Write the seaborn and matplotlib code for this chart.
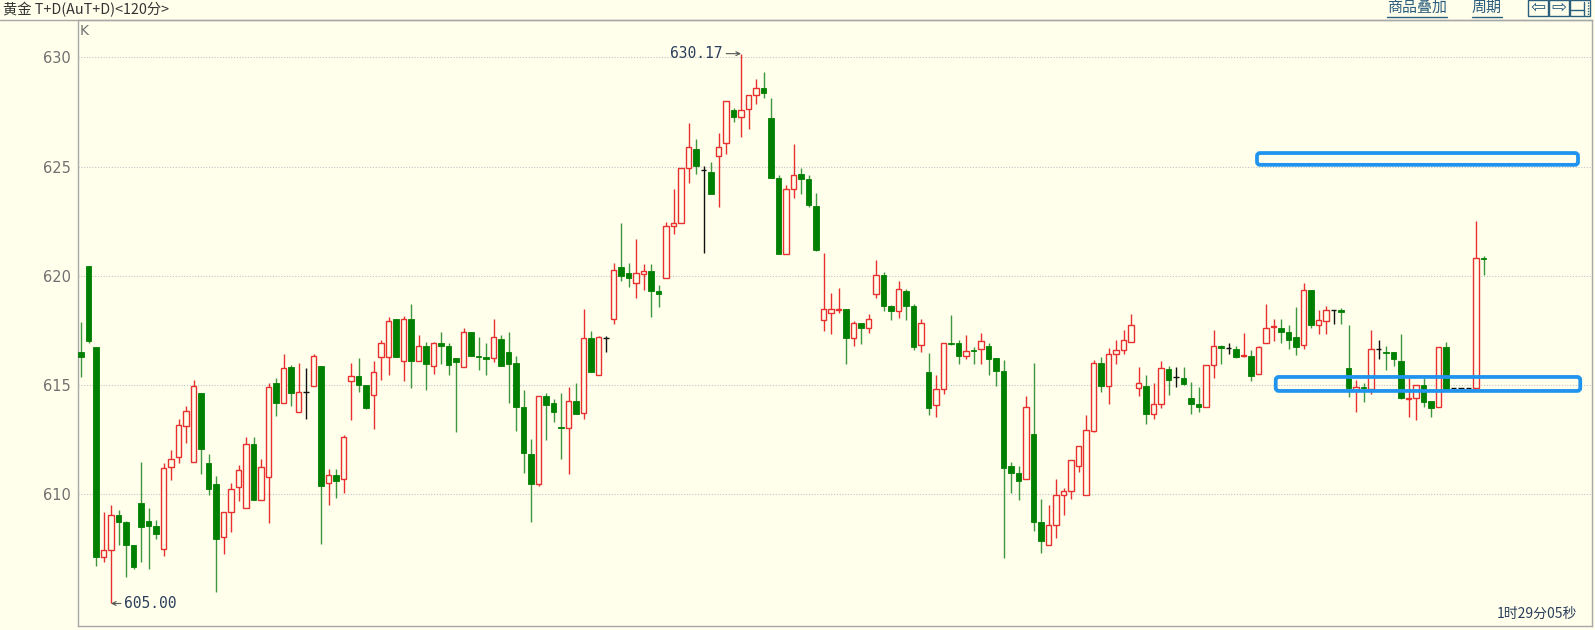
import matplotlib
matplotlib.use("Agg")
import matplotlib.pyplot as plt
import seaborn as sns
from matplotlib.patches import FancyBboxPatch, Rectangle
from matplotlib.lines import Line2D
from matplotlib.transforms import IdentityTransform

# ---------------- data ----------------
opens = [
    616.52, 620.47, 616.74, 607.12, 607.45, 609.07, 608.73, 607.68, 609.60, 608.78,
    608.53, 607.51, 611.24, 611.71, 613.13, 611.46, 614.62, 611.41, 610.47, 608.05,
    609.20, 610.34, 609.36, 612.29, 609.76, 610.78, 615.08, 614.20, 615.84, 613.78,
    614.67, 614.96, 615.89, 610.51, 610.90, 610.69, 615.18, 615.42, 615.01, 614.54,
    616.29, 616.27, 618.01, 616.10, 618.01, 616.10, 616.77, 615.89, 616.91, 616.77,
    616.23, 615.81, 617.45, 616.32, 616.27, 616.23, 617.13, 616.52, 616.03, 613.98,
    611.86, 610.47, 614.50, 614.17, 613.07, 613.02, 614.28, 613.71, 617.17, 615.48,
    617.17, 618.02, 620.39, 620.13, 619.68, 620.10, 620.22, 619.29, 619.88, 622.30,
    622.42, 624.92, 625.82, 624.84, 624.75, 625.48, 626.07, 627.60, 627.26, 627.63,
    628.27, 628.61, 627.21, 624.50, 621.00, 623.99, 624.67, 624.45, 623.20, 617.99,
    618.32, 618.45, 618.49, 617.17, 617.82, 617.61, 619.17, 620.02, 618.63, 618.38,
    619.31, 618.63, 616.84, 615.58, 614.09, 614.82, 616.94, 616.94, 616.33, 616.60,
    616.63, 616.80, 616.26, 615.65, 611.30, 610.96, 610.71, 612.78, 608.71, 607.70,
    608.60, 609.95, 610.17, 611.29, 609.97, 612.90, 616.00, 614.96, 616.40, 616.60,
    616.99, 614.88, 614.96, 613.69, 614.11, 615.72, 615.35, 615.30, 614.40, 614.11,
    613.98, 615.93, 616.79, 616.71, 616.66, 616.32, 616.32, 615.52, 616.94, 617.67,
    617.59, 617.42, 617.21, 616.82, 619.37, 617.76, 617.93, 618.43, 618.43, 615.78,
    614.78, 614.92, 614.82, 616.67, 616.53, 616.53, 616.12, 614.35, 614.40, 614.99,
    614.26, 614.01, 616.76, 614.87, 614.87, 614.87, 614.87, 620.80,
]
highs = [
    617.89, 620.47, 616.74, 609.20, 609.49, 609.26, 608.78, 607.70, 611.49, 609.37,
    608.83, 611.41, 612.03, 613.44, 614.06, 615.22, 614.62, 611.83, 610.85, 609.20,
    610.51, 611.36, 612.62, 612.62, 611.60, 615.08, 615.30, 616.40, 615.93, 616.00,
    615.78, 616.40, 615.89, 611.15, 611.15, 612.71, 616.00, 616.23, 615.01, 616.10,
    617.05, 618.13, 618.01, 618.18, 618.69, 617.30, 616.99, 616.99, 617.42, 616.91,
    616.23, 617.59, 617.45, 617.20, 616.91, 618.01, 617.30, 617.42, 616.32, 614.79,
    612.51, 614.50, 614.62, 614.37, 614.62, 614.91, 615.08, 618.49, 617.48, 617.23,
    617.26, 620.60, 622.42, 620.60, 621.68, 620.52, 620.52, 619.59, 622.47, 623.99,
    624.92, 626.99, 626.24, 625.01, 625.21, 626.53, 628.02, 627.67, 630.17, 628.27,
    629.02, 629.32, 628.14, 624.62, 624.16, 626.02, 624.92, 624.62, 623.77, 621.03,
    619.20, 619.42, 618.49, 617.95, 617.82, 618.27, 620.73, 620.19, 618.66, 619.76,
    619.38, 618.70, 618.02, 616.46, 615.48, 616.94, 618.21, 617.06, 617.31, 616.72,
    617.39, 616.94, 616.26, 616.16, 611.47, 611.30, 614.52, 615.99, 609.78, 609.49,
    610.71, 610.29, 611.56, 612.20, 613.61, 616.15, 616.28, 616.69, 617.08, 617.50,
    618.23, 615.81, 615.47, 615.08, 616.11, 615.89, 615.84, 615.84, 615.13, 614.93,
    615.93, 617.50, 616.82, 616.94, 616.77, 617.38, 616.60, 616.77, 618.69, 618.01,
    618.01, 617.76, 618.57, 619.65, 619.37, 618.43, 618.64, 618.43, 618.53, 617.74,
    615.21, 615.09, 617.50, 617.05, 616.81, 616.53, 617.33, 615.30, 614.99, 615.33,
    614.26, 616.76, 616.98, 614.87, 614.87, 614.87, 622.52, 620.89,
]
lows = [
    615.39, 616.94, 606.71, 606.92, 605.00, 607.68, 606.21, 606.60, 606.92, 606.58,
    607.97, 607.17, 610.64, 611.44, 612.34, 611.46, 610.95, 609.97, 605.53, 607.26,
    608.27, 609.71, 609.36, 609.75, 609.76, 608.70, 613.56, 614.20, 614.06, 613.78,
    613.44, 614.96, 607.73, 609.49, 609.83, 610.05, 613.39, 614.66, 613.90, 612.98,
    615.22, 615.47, 616.27, 615.18, 614.88, 616.10, 614.79, 615.52, 615.98, 615.47,
    612.85, 615.81, 616.32, 615.69, 615.47, 616.06, 615.86, 614.18, 612.88, 610.98,
    608.75, 610.36, 612.47, 613.32, 611.63, 610.95, 613.69, 613.45, 615.58, 615.45,
    616.50, 617.78, 619.76, 619.48, 618.97, 619.34, 618.12, 618.58, 619.88, 621.93,
    622.42, 624.25, 624.67, 621.03, 623.74, 623.15, 625.57, 627.04, 626.36, 626.70,
    627.88, 628.14, 624.50, 621.00, 621.00, 623.57, 623.74, 623.15, 621.12, 617.48,
    617.34, 618.32, 615.96, 616.77, 616.89, 617.39, 618.97, 618.41, 617.99, 618.07,
    617.99, 616.60, 616.50, 613.62, 613.55, 614.60, 616.84, 615.96, 616.21, 615.96,
    615.96, 615.45, 614.97, 607.07, 610.07, 609.73, 610.71, 608.34, 607.33, 607.70,
    608.00, 609.05, 609.78, 611.02, 609.97, 612.85, 614.67, 614.11, 615.98, 616.43,
    616.99, 614.50, 613.22, 613.44, 613.95, 614.54, 614.93, 615.01, 613.69, 613.78,
    613.98, 615.30, 615.98, 616.40, 616.23, 616.27, 615.18, 615.52, 616.94, 617.00,
    616.94, 616.66, 616.37, 616.65, 617.62, 617.33, 617.33, 617.79, 617.79, 614.47,
    613.78, 614.23, 614.57, 616.19, 615.68, 615.85, 614.35, 613.54, 613.41, 614.01,
    613.54, 614.01, 614.82, 614.87, 614.87, 614.87, 614.87, 620.03,
]
closes = [
    616.27, 617.00, 607.12, 607.45, 609.07, 608.73, 607.68, 606.66, 608.48, 608.56,
    608.19, 611.19, 611.60, 613.18, 613.83, 614.96, 612.08, 610.22, 607.97, 609.20,
    610.25, 611.12, 612.29, 609.75, 611.27, 614.91, 614.20, 615.76, 614.62, 614.66,
    614.67, 616.32, 610.39, 610.90, 610.61, 612.62, 615.42, 615.01, 613.95, 615.59,
    616.93, 617.93, 616.27, 618.01, 616.10, 616.77, 615.98, 616.91, 616.77, 615.93,
    616.06, 617.45, 616.32, 616.27, 616.21, 617.20, 615.86, 615.98, 613.98, 611.91,
    610.47, 614.50, 614.08, 613.78, 613.02, 614.28, 613.69, 617.17, 615.58, 617.19,
    617.17, 620.27, 619.98, 619.88, 620.13, 620.22, 619.29, 619.17, 622.27, 622.44,
    624.92, 625.89, 625.01, 624.84, 623.74, 625.89, 628.02, 627.29, 627.60, 628.27,
    628.61, 628.39, 624.50, 621.00, 623.99, 624.62, 624.45, 623.23, 621.17, 618.49,
    618.49, 618.49, 617.17, 617.82, 617.61, 618.04, 620.05, 618.61, 618.38, 619.39,
    618.61, 616.75, 617.82, 613.96, 614.82, 616.94, 616.90, 616.33, 616.55, 616.55,
    617.00, 616.21, 615.65, 611.22, 610.96, 610.63, 614.01, 608.71, 607.87, 608.60,
    609.95, 610.17, 611.56, 612.20, 612.96, 616.00, 614.96, 616.40, 616.62, 617.08,
    617.76, 615.08, 613.69, 614.11, 615.78, 615.25, 615.35, 615.05, 614.11, 613.98,
    615.93, 616.79, 616.71, 616.71, 616.27, 616.36, 615.42, 616.74, 617.59, 617.70,
    617.42, 617.08, 616.74, 619.37, 617.76, 617.98, 618.43, 618.43, 618.36, 614.87,
    614.92, 614.85, 616.67, 616.67, 616.47, 616.19, 614.40, 614.40, 614.99, 614.23,
    613.96, 616.76, 614.82, 614.87, 614.87, 614.87, 620.80, 620.77,
]
y_ticks = [610, 615, 620, 625, 630]
title_text = "黄金 T+D(AuT+D)<120分>"
max_label = "630.17"
min_label = "605.00"
timer_text = "1时29分05秒"
# highlight zones: (start index, end index, low price, high price)
zones = [(156.8, 199.6, 625.08, 625.62), (159.3, 199.9, 614.73, 615.37)]

# ---------------- style ----------------
BG = "#FFFFEC"
RED = "#E8302E"
GREEN = "#008000"
GREEN_WICK = "#3E973E"
BLACK = "#111111"
GRID = "#C4C4C4"
FRAME = "#A8A8A8"
NAVY = "#2B3F5C"
LINK = "#2C5E7E"
BLUE = "#1F93EE"

sns.set_style("white")
plt.rcParams["font.family"] = ["DejaVu Sans", "Noto Sans CJK SC"]
cjk = ["Noto Sans CJK SC", "DejaVu Sans"]

W, H = 1595, 630
fig = plt.figure(figsize=(W / 100, H / 100), dpi=100, facecolor=BG)
left_px, right_px, top_px, bot_px = 77.5, 1591.5, 20.0, 626.0
ax = fig.add_axes([left_px / W, 1 - bot_px / H, (right_px - left_px) / W, (bot_px - top_px) / H])
ax.set_facecolor(BG)

n = len(opens)
xs = list(range(n))
ax.set_xlim(-0.467, 201.4)
ax.set_ylim(603.97, 631.71)

body_w = 0.70
for i in xs:
    o, h, l, c = opens[i], highs[i], lows[i], closes[i]
    if c > o:
        ax.vlines(i, l, h, color=RED, lw=1.0, zorder=2)
        ax.bar(i, c - o, bottom=o, width=body_w, facecolor=BG, edgecolor=RED, lw=1.0, zorder=3)
    elif c < o:
        ax.vlines(i, l, h, color=GREEN_WICK, lw=1.0, zorder=2)
        ax.bar(i, o - c, bottom=c, width=body_w, facecolor=GREEN, edgecolor=GREEN, lw=0.6, zorder=3)
    else:
        ax.vlines(i, l, h, color=BLACK, lw=1.0, zorder=2)
        ax.hlines(o, i - body_w / 2, i + body_w / 2, color=BLACK, lw=1.0, zorder=3)

# grid, ticks, frame
ax.set_yticks(y_ticks)
ax.set_yticklabels([str(t) for t in y_ticks])
ax.set_xticks([])
ax.tick_params(axis="y", length=0, pad=4.5, labelsize=10.5, labelcolor="#707070")
ax.grid(axis="y", color=GRID, linestyle=(0, (1, 1.5)), lw=0.8, zorder=0)
ax.grid(axis="x", visible=False)
for s in ax.spines.values():
    s.set_color(FRAME)
    s.set_linewidth(1.0)

# header separator across the full width
fig.add_artist(Line2D([0, right_px / W], [1 - top_px / H, 1 - top_px / H],
                      transform=fig.transFigure, color=FRAME, lw=1.0))

# annotations of extremes
imax = highs.index(max(highs))
imin = lows.index(min(lows))
ax.annotate(max_label, xy=(imax, highs[imax]), xytext=(-13, 0), textcoords="offset points",
            ha="right", va="center", fontsize=10.5, color=NAVY, family="DejaVu Sans Mono",
            arrowprops=dict(arrowstyle="->", color="#555555", lw=0.8, mutation_scale=7,
                            shrinkA=0, shrinkB=0, relpos=(1.0, 0.5)))
ax.annotate(min_label, xy=(imin, lows[imin]), xytext=(9.5, 0), textcoords="offset points",
            ha="left", va="center", fontsize=10.5, color=NAVY, family="DejaVu Sans Mono",
            arrowprops=dict(arrowstyle="->", color="#555555", lw=0.8, mutation_scale=7,
                            shrinkA=0, shrinkB=0, relpos=(0.0, 0.5)))

# highlight boxes (drawn in pixel space from data coordinates)
fig.canvas.draw()
for x0, x1, y0, y1 in zones:
    (px0, py0) = ax.transData.transform((x0, y0))
    (px1, py1) = ax.transData.transform((x1, y1))
    box = FancyBboxPatch((px0, py0), px1 - px0, py1 - py0,
                         boxstyle="round,pad=0,rounding_size=3",
                         transform=IdentityTransform(), facecolor="none",
                         edgecolor=BLUE, lw=2.7, zorder=10)
    fig.add_artist(box)

def fx(x):
    return x / W

def fy(y):
    return 1 - y / H

# header texts
fig.text(fx(3), fy(10), title_text, ha="left", va="center", fontsize=10.3, color="#333333", family=cjk)
fig.text(fx(80), fy(31), "K", ha="left", va="center", fontsize=10, color="#707070")
fig.text(fx(1387), fy(8), "商品叠加", ha="left", va="center", fontsize=10.8, color=LINK, family=cjk)
fig.text(fx(1472), fy(8), "周期", ha="left", va="center", fontsize=10.8, color=LINK, family=cjk)
for a, b in [(1387, 1447), (1472, 1502)]:
    fig.add_artist(Line2D([fx(a), fx(b)], [fy(17), fy(17)], transform=fig.transFigure, color=LINK, lw=1.0))
for a, b in [(1528, 1548), (1549, 1569), (1569.5, 1590)]:
    fig.add_artist(Rectangle((fx(a), fy(15.5)), fx(b - a), 15 / H, transform=fig.transFigure,
                             facecolor="none", edgecolor=LINK, lw=1.0))
fig.text(fx(1538), fy(8), "⇦", ha="center", va="center", fontsize=13, color=LINK)
fig.text(fx(1559), fy(8), "⇨", ha="center", va="center", fontsize=13, color=LINK)
fig.add_artist(Line2D([fx(1571), fx(1584)], [fy(9.5), fy(9.5)], transform=fig.transFigure, color=LINK, lw=1.0))
fig.add_artist(Line2D([fx(1584), fx(1584)], [fy(2), fy(15)], transform=fig.transFigure, color=LINK, lw=1.0))
fig.add_artist(Line2D([fx(1587.5), fx(1587.5)], [fy(2), fy(15)], transform=fig.transFigure, color=LINK,
                      lw=1.0, linestyle=(0, (1, 1))))

# timer text bottom right
fig.text(fx(1577), fy(614), timer_text, ha="right", va="center", fontsize=10, color=NAVY, family=cjk)

fig.savefig("out.png", dpi=100, facecolor=BG)
